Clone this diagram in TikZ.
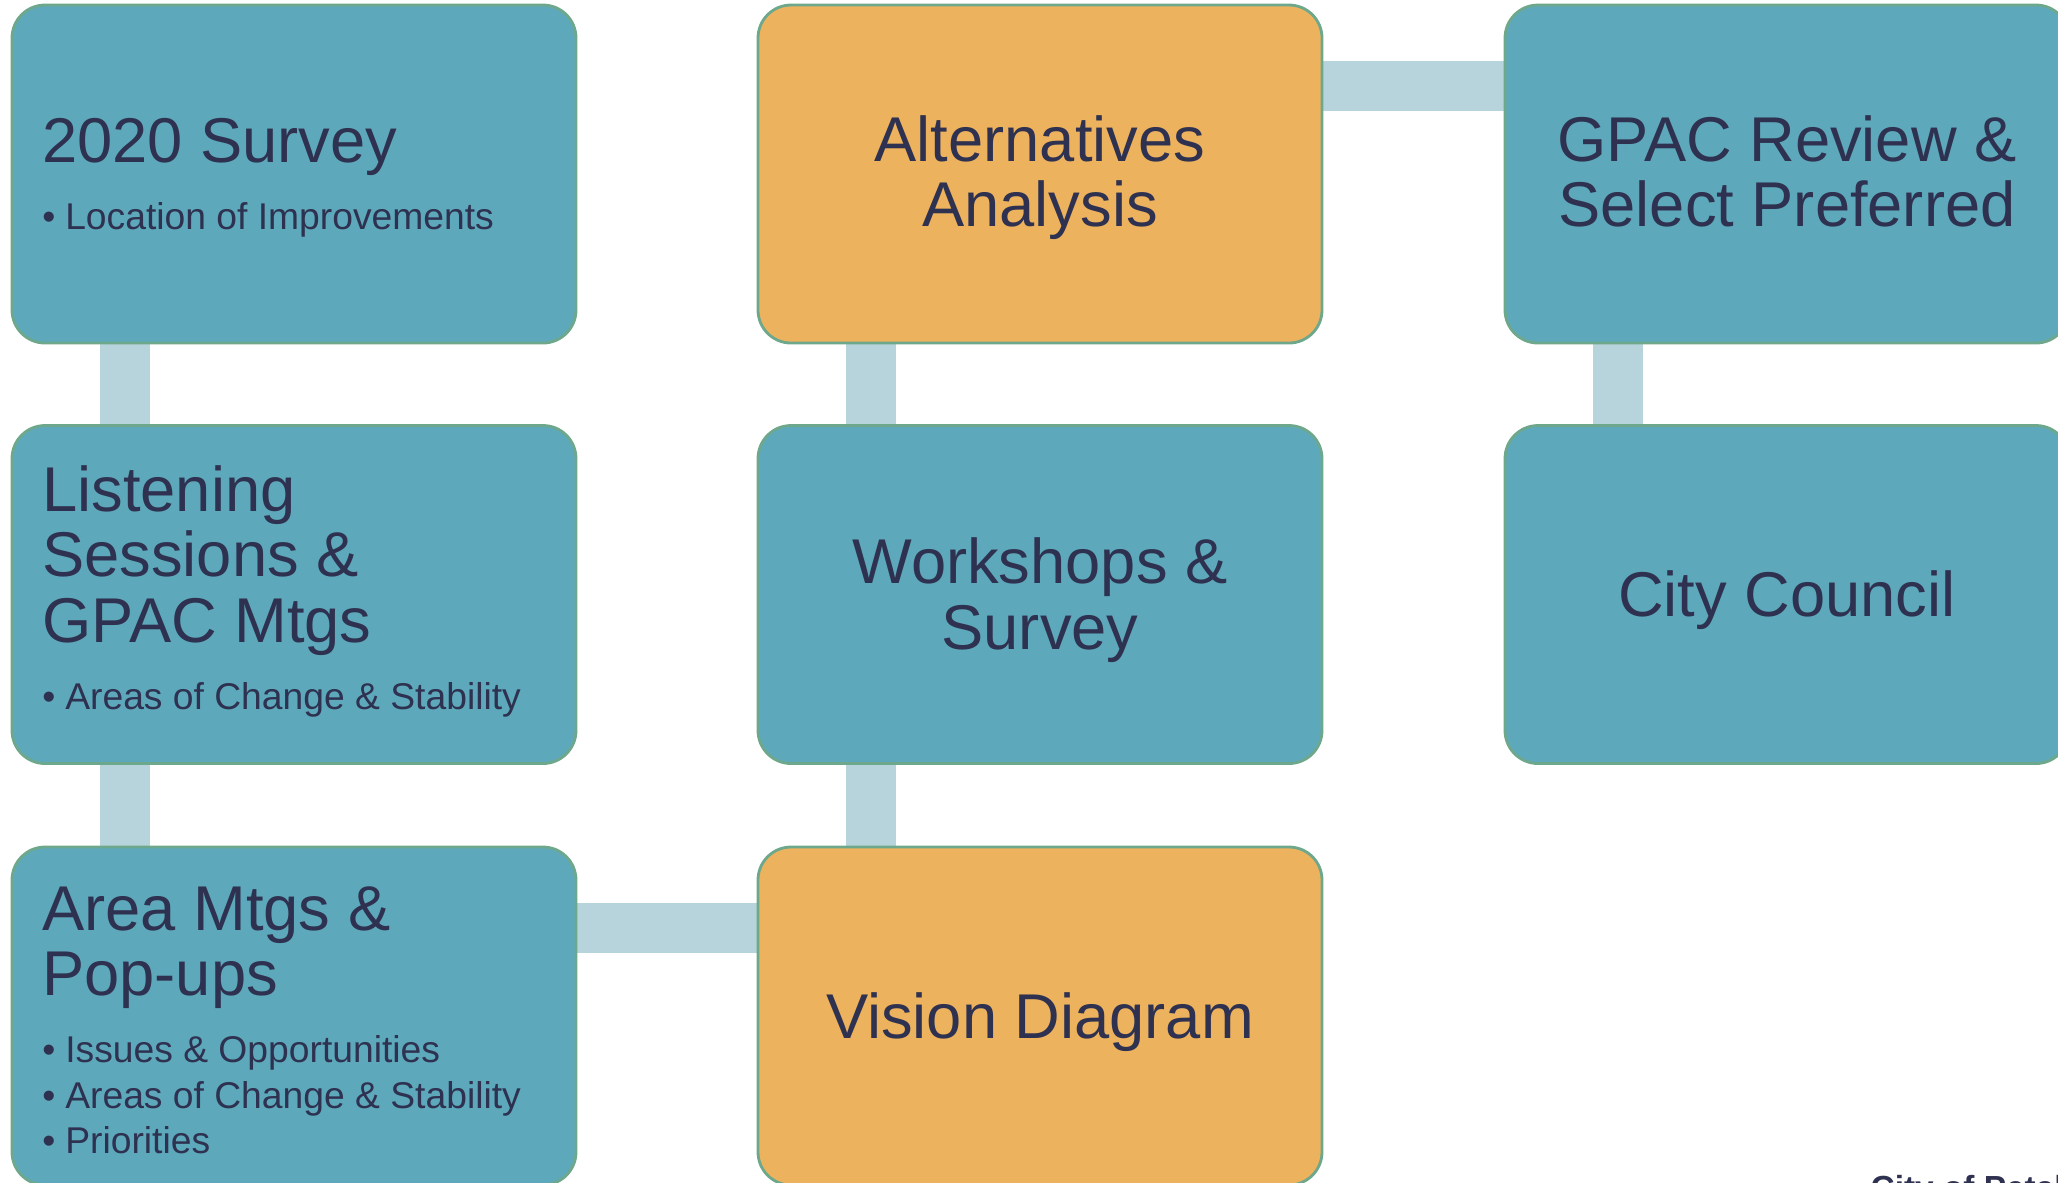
\documentclass[tikz,border=0pt]{standalone}
\usepackage{fontspec}
\setmainfont{Liberation Sans}
\usepackage{tikz}
\usepackage{xcolor}
\usetikzlibrary{calc,backgrounds}
\definecolor{boxteal}{RGB}{94,168,187}
\definecolor{boxamber}{RGB}{237,178,94}
\definecolor{linkblue}{RGB}{183,212,220}
\definecolor{rimgreen}{RGB}{110,168,140}
\definecolor{inknavy}{RGB}{46,50,80}
\newcommand\dotitem{\makebox[0.23cm][l]{•}}

\tikzset{
  box/.style={draw=rimgreen, line width=0.8pt, fill=boxteal, rounded corners=0.33cm,
    minimum width=5.64cm, minimum height=3.38cm, inner sep=0pt},
  hot/.style={box, fill=boxamber},
  link/.style={line width=0.5cm, linkblue},
  head/.style={font=\fontsize{18}{18.6}\selectfont, text=inknavy, inner sep=0pt},
  note/.style={font=\fontsize{10.6}{12.9}\selectfont, text=inknavy, inner sep=0pt, align=left, anchor=base west}
}

\begin{document}
\begin{tikzpicture}
\useasboundingbox (0,0) rectangle (20.58,-11.82);
\clip (0,0) rectangle (20.58,-11.82);

% boxes
\node[box] (survey) at (2.94,-1.74) {};
\node[box] (listen) at (2.94,-5.945) {};
\node[box] (areamtg) at (2.94,-10.16) {};
\node[hot] (alts) at (10.40,-1.74) {};
\node[box] (workshop) at (10.40,-5.945) {};
\node[hot] (vision) at (10.40,-10.16) {};
\node[box] (gpac) at (17.87,-1.74) {};
\node[box] (council) at (17.87,-5.945) {};

% connectors
\begin{scope}[on background layer]
\draw[link] ($(survey.south west)+(1.14,0)$) -- ($(listen.north west)+(1.14,0)$);
\draw[link] ($(listen.south west)+(1.14,0)$) -- ($(areamtg.north west)+(1.14,0)$);
\draw[link] ($(areamtg.north east)+(0,-0.82)$) -- ($(vision.north west)+(0,-0.82)$);
\draw[link] ($(vision.north west)+(1.14,0)$) -- ($(workshop.south west)+(1.14,0)$);
\draw[link] ($(workshop.north west)+(1.14,0)$) -- ($(alts.south west)+(1.14,0)$);
\draw[link] ($(alts.north east)+(0,-0.82)$) -- ($(gpac.north west)+(0,-0.82)$);
\draw[link] ($(gpac.south west)+(1.14,0)$) -- ($(council.north west)+(1.14,0)$);
\end{scope}

% left column (base = last line)
\node[head, align=left, anchor=base west] (surveyt) at ($(survey.north west)+(0.31,-1.59)$) {2020 Survey};
\node[note] (surveyb) at ($(survey.north west)+(0.31,-2.26)$) {\dotitem Location of Improvements};
\node[head, align=left, anchor=base west] (listent) at ($(listen.north west)+(0.31,-2.18)$) {Listening\\Sessions \&\\GPAC Mtgs};
\node[note] (listenb) at ($(listen.north west)+(0.31,-2.85)$) {\dotitem Areas of Change \& Stability};
\node[head, align=left, anchor=base west] (areamtgt) at ($(areamtg.north west)+(0.31,-1.50)$) {Area Mtgs \&\\Pop-ups};
\node[note] (areamtgb) at ($(areamtg.north west)+(0.31,-3.08)$) {\dotitem Issues \& Opportunities\\\dotitem Areas of Change \& Stability\\\dotitem Priorities};

% middle and right columns
\node[head, align=center, anchor=base] (altst) at ($(alts.north)+(0,-2.23)$) {Alternatives\\Analysis};
\node[head, align=center, anchor=base] (workshopt) at ($(workshop.north)+(0,-2.25)$) {Workshops \&\\Survey};
\node[head, align=center, anchor=base] (visiont) at ($(vision.north)+(0,-1.93)$) {Vision Diagram};
\node[head, align=center, anchor=base] (gpact) at ($(gpac.north)+(0,-2.23)$) {GPAC Review \&\\Select Preferred};
\node[head, align=center, anchor=base] (councilt) at ($(council.north)+(0,-1.92)$) {City Council};

\node[font=\fontsize{9.5}{11}\bfseries, text=inknavy, anchor=base west, inner sep=0pt] (credit) at (18.70,-11.99) {City of Petaluma};
\end{tikzpicture}
\end{document}
